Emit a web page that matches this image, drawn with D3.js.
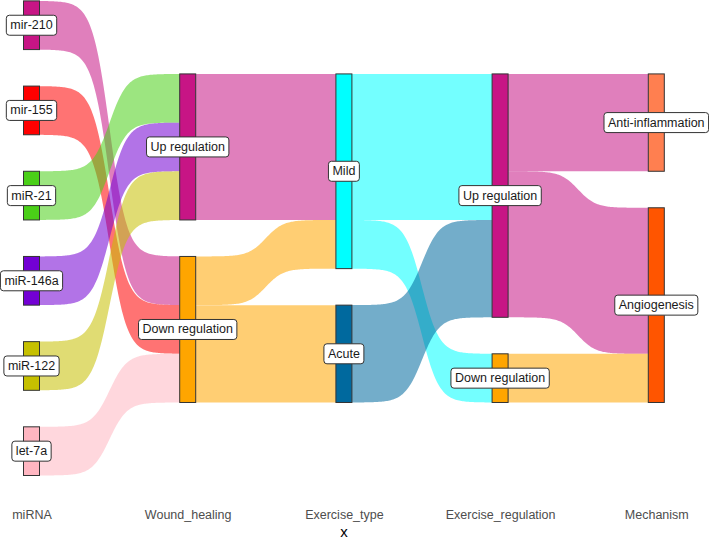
<!DOCTYPE html>
<html>
<head>
<meta charset="utf-8">
<script src="https://cdn.jsdelivr.net/npm/d3@7"></script>
<style>
  html, body { margin: 0; padding: 0; background: #fff; }
  svg { display: block; font-family: "Liberation Sans", Arial, sans-serif; }
</style>
</head>
<body>
<svg id="chart" width="709" height="542"></svg>
<script>
// ---- data ----
const stages = ["miRNA", "Wound_healing", "Exercise_type", "Exercise_regulation", "Mechanism"];
const miRNA = ["mir-210", "mir-155", "miR-21", "miR-146a", "miR-122", "let-7a"];
const woundHealing = ["Down regulation", "Down regulation", "Up regulation", "Up regulation", "Up regulation", "Down regulation"];
const exerciseType = ["Mild", "Acute", "Mild", "Mild", "Mild", "Acute"];
const exerciseRegulation = ["Down regulation", "Up regulation", "Up regulation", "Up regulation", "Up regulation", "Up regulation"];
const mechanism = ["Angiogenesis", "Angiogenesis", "Anti-inflammation", "Anti-inflammation", "Angiogenesis", "Angiogenesis"];
const nodeOrder = [
  ["mir-210", "mir-155", "miR-21", "miR-146a", "miR-122", "let-7a"],
  ["Up regulation", "Down regulation"],
  ["Mild", "Acute"],
  ["Up regulation", "Down regulation"],
  ["Anti-inflammation", "Angiogenesis"]
];
const nodeColors = {
  "mir-210": "#C71585", "mir-155": "#FF0000", "miR-21": "#4ACF18", "miR-146a": "#7300D4",
  "miR-122": "#C6C000", "let-7a": "#FFB6C1",
  "Up regulation": "#C71585", "Down regulation": "#FFA500",
  "Mild": "#00FFFF", "Acute": "#00699E",
  "Anti-inflammation": "#FF7F50", "Angiogenesis": "#FF5500"
};
const columns = [miRNA, woundHealing, exerciseType, exerciseRegulation, mechanism];

// ---- layout ----
const svg = d3.select("#chart");
const x = d3.scalePoint().domain(stages).range([31.5, 656.3]);
const gapUnits = 0.75;
const maxTotal = 6 + 5 * gapUnits;
const y = d3.scaleLinear().domain([0, maxTotal]).range([0.9, 475.5]);
const nodeW = 16;

const nodes = []; // per stage: map name->{y0,y1,count}
stages.forEach((s, si) => {
  const counts = d3.rollup(columns[si], v => v.length, d => d);
  const order = nodeOrder[si];
  const total = d3.sum(order, n => counts.get(n)) + (order.length - 1) * gapUnits;
  let pos = (maxTotal - total) / 2;
  const m = new Map();
  order.forEach(n => {
    const c = counts.get(n);
    m.set(n, { name: n, stage: s, y0: pos, y1: pos + c, count: c });
    pos += c + gapUnits;
  });
  nodes.push(m);
});

// links
const links = [];
for (let si = 0; si < stages.length - 1; si++) {
  const agg = d3.rollup(d3.range(miRNA.length), v => v.length, i => columns[si][i], i => columns[si + 1][i]);
  const srcOrder = nodeOrder[si], tgtOrder = nodeOrder[si + 1];
  const stageLinks = [];
  srcOrder.forEach(s => {
    const inner = agg.get(s);
    if (!inner) return;
    tgtOrder.forEach(t => {
      if (inner.get(t)) stageLinks.push({ si, source: s, target: t, value: inner.get(t) });
    });
  });
  // source side offsets: order by target
  srcOrder.forEach(s => {
    let off = nodes[si].get(s).y0;
    stageLinks.filter(l => l.source === s)
      .sort((a, b) => tgtOrder.indexOf(a.target) - tgtOrder.indexOf(b.target))
      .forEach(l => { l.sy0 = off; l.sy1 = off + l.value; off += l.value; });
  });
  tgtOrder.forEach(t => {
    let off = nodes[si + 1].get(t).y0;
    stageLinks.filter(l => l.target === t)
      .sort((a, b) => srcOrder.indexOf(a.source) - srcOrder.indexOf(b.source))
      .forEach(l => { l.ty0 = off; l.ty1 = off + l.value; off += l.value; });
  });
  links.push(...stageLinks);
}

function sigmoidPts(x0, x1, y0, y1, smooth = 8, n = 120) {
  const pts = [];
  for (let i = 0; i < n; i++) {
    const t = -smooth + (2 * smooth) * i / (n - 1);
    const f = Math.exp(t) / (Math.exp(t) + 1);
    pts.push([x0 + (t + smooth) / (2 * smooth) * (x1 - x0), y0 + f * (y1 - y0)]);
  }
  return pts;
}
const line = d3.line();

const gFlows = svg.append("g");
links.forEach(l => {
  const x0 = x(stages[l.si]) + nodeW / 2;
  const x1 = x(stages[l.si + 1]) - nodeW / 2;
  const top = sigmoidPts(x0, x1, y(l.sy0), y(l.ty0));
  const bot = sigmoidPts(x0, x1, y(l.sy1), y(l.ty1)).reverse();
  gFlows.append("path")
    .attr("d", line(top.concat(bot)) + "Z")
    .attr("fill", nodeColors[l.source])
    .attr("fill-opacity", 0.55)
    .attr("stroke", "none");
});

// nodes
const gNodes = svg.append("g");
nodes.forEach((m, si) => {
  m.forEach(n => {
    gNodes.append("rect")
      .attr("x", x(stages[si]) - nodeW / 2)
      .attr("y", y(n.y0))
      .attr("width", nodeW)
      .attr("height", y(n.y1) - y(n.y0))
      .attr("fill", nodeColors[n.name])
      .attr("stroke", "#333")
      .attr("stroke-width", 1);
  });
});

// labels
const gLabels = svg.append("g");
nodes.forEach((m, si) => {
  m.forEach(n => {
    const cx = x(stages[si]);
    const cy = (y(n.y0) + y(n.y1)) / 2;
    const g = gLabels.append("g");
    const rect = g.append("rect");
    const t = g.append("text")
      .attr("x", cx).attr("y", cy)
      .attr("text-anchor", "middle")
      .attr("dominant-baseline", "central")
      .attr("font-size", 12.5)
      .attr("fill", "#1a1a1a")
      .text(n.name);
    const w = t.node().getComputedTextLength();
    rect.attr("x", cx - w / 2 - 4).attr("y", cy - 10)
      .attr("width", w + 8).attr("height", 20)
      .attr("rx", 3).attr("ry", 3)
      .attr("fill", "#fff").attr("stroke", "#333").attr("stroke-width", 1);
  });
});

// axis
const axisG = svg.append("g").attr("transform", "translate(0,500)");
axisG.call(d3.axisBottom(x).tickSize(0).tickPadding(10));
axisG.select(".domain").remove();
axisG.selectAll("text")
  .attr("font-size", 12.5)
  .attr("font-family", "Liberation Sans, Arial, sans-serif")
  .attr("fill", "#4D4D4D");
svg.append("text")
  .attr("x", x("Exercise_type")).attr("y", 537)
  .attr("text-anchor", "middle")
  .attr("font-size", 15)
  .attr("fill", "#000")
  .text("x");
</script>
</body>
</html>
